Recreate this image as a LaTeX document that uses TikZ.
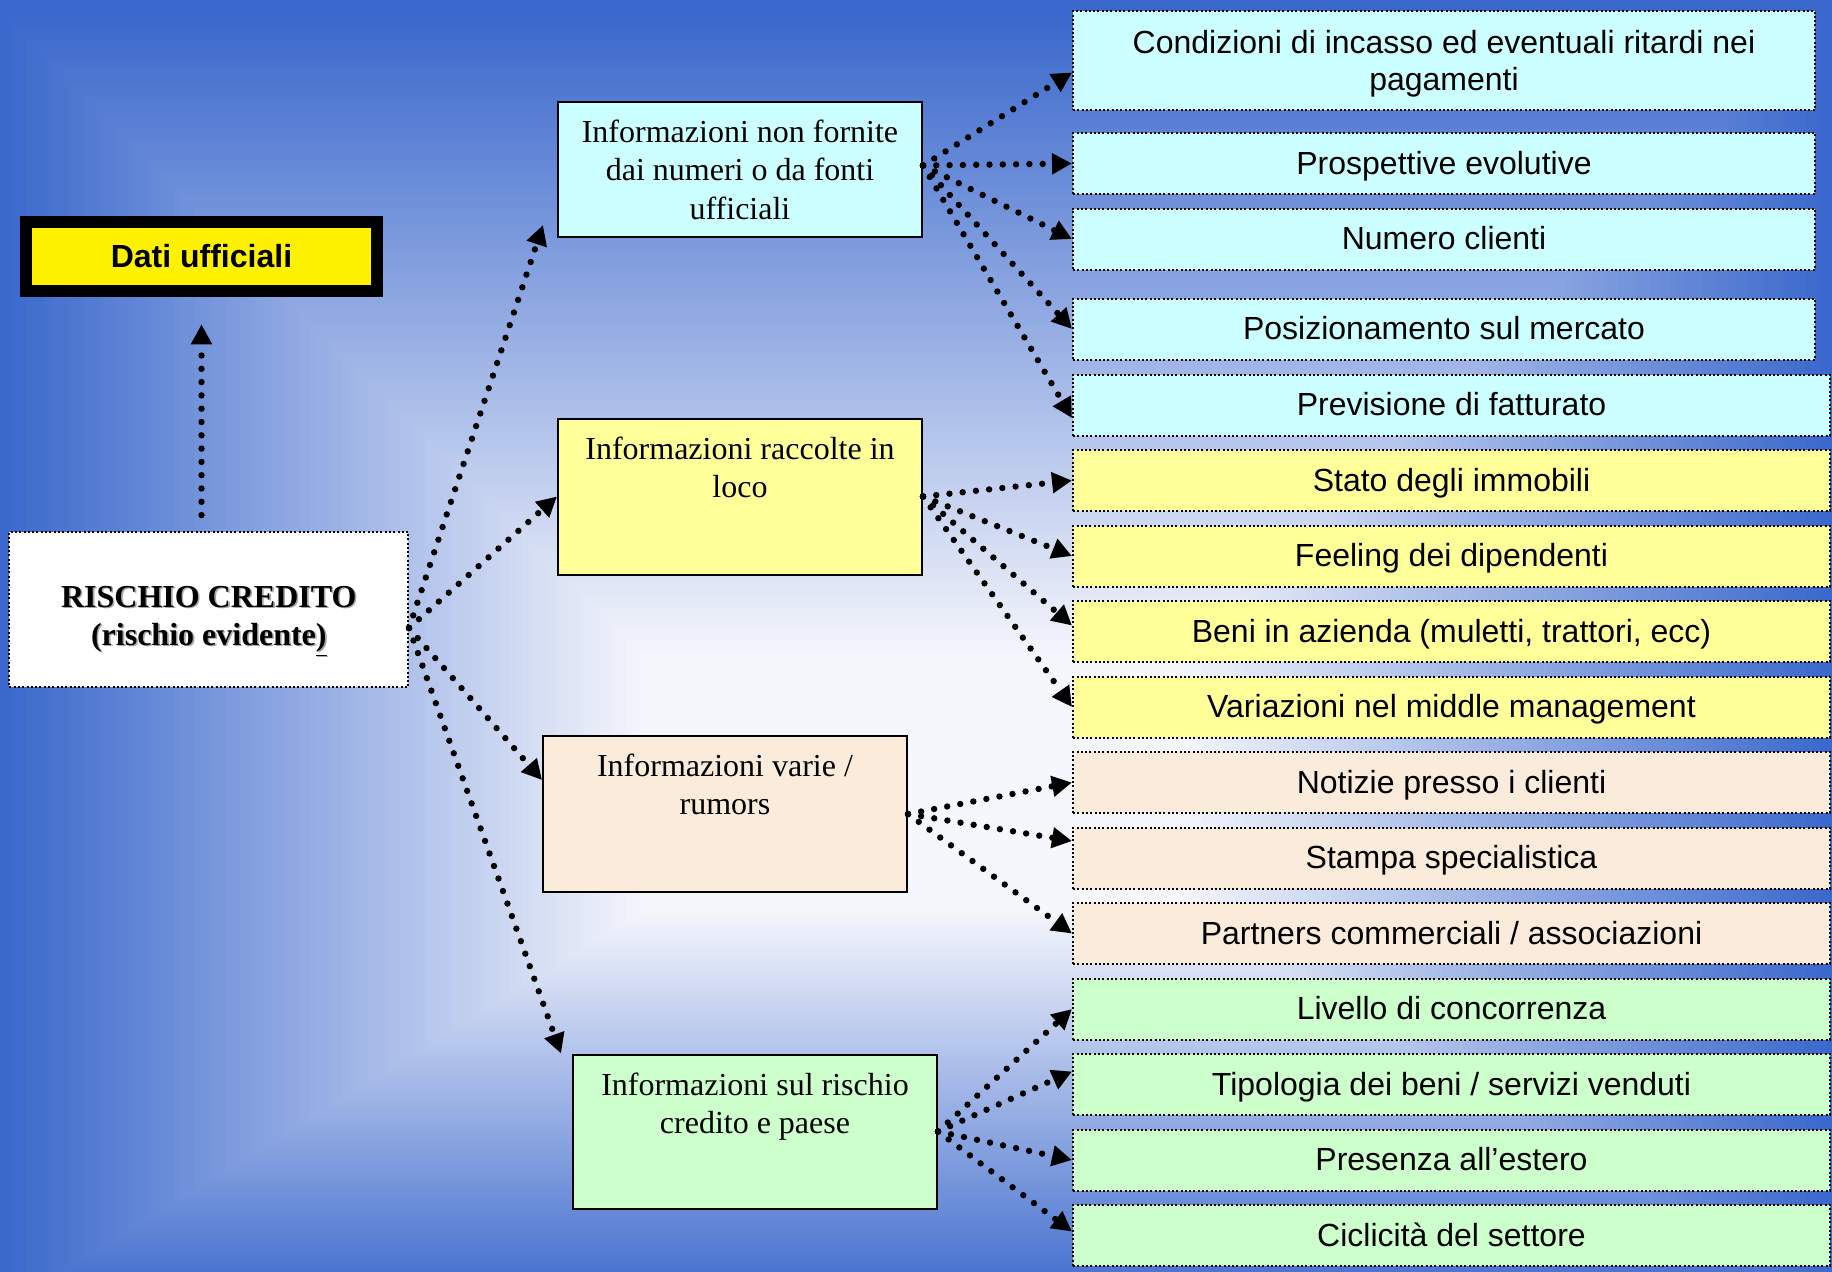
\documentclass[tikz,border=0pt]{standalone}
\usepackage{fontspec}
\setmainfont{Liberation Serif}
\setsansfont{Liberation Sans}
\usetikzlibrary{arrows.meta,positioning}

\definecolor{bgblue}{RGB}{58,104,204}
\definecolor{bgcenter}{RGB}{246,247,252}
\definecolor{infocyan}{RGB}{204,255,255}
\definecolor{infoyellow}{RGB}{255,255,153}
\definecolor{infopeach}{RGB}{250,235,219}
\definecolor{infogreen}{RGB}{204,255,204}

\newcommand{\rfont}{\sffamily\fontsize{16}{18.8}\selectfont}
\newcommand{\mfont}{\rmfamily\fontsize{16}{19.2}\selectfont}
\newcommand{\intxt}[2]{\parbox[c][#1][t]{170pt}{\centering #2}}
\newcommand{\shd}[1]{\leavevmode\rlap{\kern0.8pt\raisebox{-0.8pt}{\color{black!35}#1}}#1}

\tikzset{
  conn/.style={line width=3.2pt, line cap=round, dash pattern=on 0pt off 6.65pt,
    -{Triangle[length=10pt,width=10pt]}},
  midbox/.style={draw, line width=1pt, inner xsep=6pt, inner ysep=9pt, font=\mfont},
  rboxbase/.style={draw, line width=1pt, dash pattern=on 1pt off 1.15pt,
    minimum width=378.5pt, minimum height=30.5pt, inner sep=2pt, align=center, font=\rfont},
  rbox/.style={rboxbase, text height=11.5pt, text depth=1pt},
  shortbox/.style={rbox, minimum width=371pt},
  datibox/.style={draw, line width=6pt, fill=yellow, minimum width=175.75pt,
    minimum height=34.75pt, font=\sffamily\bfseries\fontsize{16}{19}\selectfont},
  riskbox/.style={draw, fill=white, line width=1pt, dash pattern=on 1pt off 1.15pt,
    minimum width=199.5pt, minimum height=77.8pt, align=center,
    font=\rmfamily\bfseries\fontsize{16}{19}\selectfont}
}

\begin{document}
\begin{tikzpicture}[x=0.5pt,y=-0.5pt,node distance=6.25pt]
\useasboundingbox (0,0) rectangle (1832,1271);
% background
\begin{scope}
  \clip (0,0) rectangle (1832,1271);
  \fill[bgblue] (0,0) rectangle (1832,1271);
  \foreach \i in {0,...,100}
    \fill[bgcenter!\i!bgblue] (6.45*\i,13+6.45*\i) rectangle (1832-6.5*\i,1310-4*\i);
\end{scope}

\node[datibox] (dati) at (201.5,256.5) {Dati ufficiali};
\node[riskbox] (risk) at (208.8,609.5) {\rule{0pt}{23pt}\shd{RISCHIO CREDITO}\\\shd{(rischio evidente\underline{)}}};

\node[midbox, fill=infocyan] (infoA) at (740,169.5) {\intxt{49.5pt}{Informazioni non fornite\\dai numeri o da fonti\\ufficiali}};
\node[midbox, fill=infoyellow] (infoB) at (740,496.5) {\intxt{60pt}{Informazioni raccolte in\\loco}};
\node[midbox, fill=infopeach] (infoC) at (725,814) {\intxt{60pt}{Informazioni varie /\\rumors}};
\node[midbox, fill=infogreen] (infoD) at (755,1131.5) {\intxt{59pt}{Informazioni sul rischio\\credito e paese}};

% right column
\node[rboxbase, minimum width=371pt, fill=infocyan, anchor=north west, minimum height=49.5pt] (c1) at (1072,10) {\rule{0pt}{15pt}Condizioni di incasso ed eventuali ritardi nei\\pagamenti};
\node[shortbox, fill=infocyan] (c2) [below=10.5pt of c1] {Prospettive evolutive};
\node[shortbox, fill=infocyan] (c3) [below=of c2] {Numero clienti};
\node[shortbox, fill=infocyan] (c4) [below=13.5pt of c3] {Posizionamento sul mercato};
\node[rbox, fill=infocyan, anchor=north west] (c5) at (1072,373.5) {Previsione di fatturato};
\node[rbox, fill=infoyellow] (c6) [below=of c5] {Stato degli immobili};
\node[rbox, fill=infoyellow] (c7) [below=of c6] {Feeling dei dipendenti};
\node[rbox, fill=infoyellow] (c8) [below=of c7] {Beni in azienda (muletti, trattori, ecc)};
\node[rbox, fill=infoyellow] (c9) [below=of c8] {Variazioni nel middle management};
\node[rbox, fill=infopeach] (c10) [below=of c9] {Notizie presso i clienti};
\node[rbox, fill=infopeach] (c11) [below=of c10] {Stampa specialistica};
\node[rbox, fill=infopeach] (c12) [below=of c11] {Partners commerciali / associazioni};
\node[rbox, fill=infogreen] (c13) [below=of c12] {Livello di concorrenza};
\node[rbox, fill=infogreen] (c14) [below=of c13] {Tipologia dei beni / servizi venduti};
\node[rbox, fill=infogreen] (c15) [below=of c14] {Presenza all’estero};
\node[rbox, fill=infogreen] (c16) [below=of c15] {Ciclicità del settore};

% connectors
\coordinate (riskout) at (409,628);
\coordinate (outA) at ([yshift=2pt]infoA.east);
\draw[conn, shorten <=7.8pt, shorten >=13.5pt] (dati.south |- risk.north) -- (dati.south);
\draw[conn] (riskout) -- ([xshift=-7pt,yshift=6.5pt]infoA.south west);
\draw[conn] (riskout) -- (infoB.west);
\draw[conn] (riskout) -- ([yshift=17pt]infoC.west);
\draw[conn] (riskout) -- ([xshift=-5.5pt,yshift=0pt]infoD.north west);

\draw[conn] (outA) -- ([yshift=-6pt]c1.west);
\draw[conn] (outA) -- (c2.west);
\draw[conn] (outA) -- (c3.west);
\draw[conn] (outA) -- (c4.west);
\draw[conn] (outA) -- ([yshift=-6.5pt]c5.west);

\draw[conn] (infoB.east) -- (c6.west);
\draw[conn] (infoB.east) -- (c7.west);
\draw[conn] (infoB.east) -- ([yshift=3pt]c8.west);
\draw[conn] (infoB.east) -- (c9.west);

\draw[conn] (infoC.east) -- (c10.west);
\draw[conn] (infoC.east) -- ([yshift=8.5pt]c11.west);
\draw[conn] (infoC.east) -- (c12.west);

\draw[conn] (infoD.east) -- (c13.west);
\draw[conn] (infoD.east) -- ([yshift=6.5pt]c14.west);
\draw[conn] (infoD.east) -- (c15.west);
\draw[conn] (infoD.east) -- ([yshift=2pt]c16.west);
\end{tikzpicture}
\end{document}
